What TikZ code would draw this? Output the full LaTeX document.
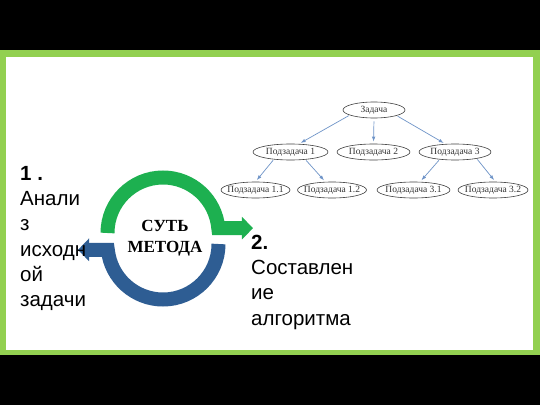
\documentclass[tikz,border=0pt]{standalone}
\usepackage{fontspec}
\setmainfont{Liberation Serif}
\setsansfont{Liberation Sans}
\usetikzlibrary{positioning,arrows.meta,shapes.geometric}
\definecolor{framegreen}{HTML}{92D050}
\definecolor{arcgreen}{HTML}{1DB050}
\definecolor{arcblue}{HTML}{2E5D93}
\definecolor{linkblue}{HTML}{6F94C8}
\tikzset{
  task/.style={ellipse, draw=black!75, line width=0.6pt, inner xsep=-4pt, inner ysep=0pt,
    minimum height=16pt, text=black!80, font=\fontsize{9.5}{11}\selectfont},
  link/.style={draw=linkblue, line width=0.7pt, -{Latex[length=5pt,width=3.5pt]},
    shorten >=2pt, shorten <=1pt},
  band/.style={line width=14pt, -{Triangle[length=11pt,width=22pt]}},
  bigtext/.style={anchor=base west, inner sep=0pt, align=left,
    font=\sffamily\fontsize{20.5}{25.3}\selectfont}
}

\begin{document}
\begin{tikzpicture}[x=1pt, y=1pt]
    \useasboundingbox (0,0) rectangle (540,405);
    \fill[black] (0,0) rectangle (540,405);
    \fill[framegreen] (0,50) rectangle (540,355);
    \fill[white] (6,55.5) rectangle (533,347.5);

    % tree
    \node[task, minimum width=62pt] (z) at (374,295) {Задача};
    \node[task, minimum width=75pt] (p1) at (290.5,253) {Подзадача 1};
    \node[task, minimum width=73pt] (p2) at (373.5,253) {Подзадача 2};
    \node[task, minimum width=72pt] (p3) at (455,253) {Подзадача 3};
    \node[task, minimum width=69pt] (p11) at (255.5,215) {Подзадача 1.1};
    \node[task, minimum width=69pt] (p12) at (332,215) {Подзадача 1.2};
    \node[task, minimum width=73pt] (p31) at (413.5,215) {Подзадача 3.1};
    \node[task, minimum width=70pt] (p32) at (493,215) {Подзадача 3.2};

    \draw[link] (z.192) -- (p1.44);
    \draw[link, shorten <=3pt] (z.south) -- (p2.north);
    \draw[link] (z.346) -- (p3.140);
    \draw[link] (p1.204) -- (p11.north);
    \draw[link] (p1.333) -- (p12.129);
    \draw[link] (p3.206) -- (p31.51);
    \draw[link] (p3.343) -- (p32.74);

    % cycle
    \coordinate (cg) at (163,172);
    \coordinate (cb) at (163,161);
    \draw[band, arcgreen] ([xshift=-55.5pt]cg) arc[start angle=180, end angle=5, radius=55.5pt]
      -- ++(34.7,0);
    \draw[band, arcblue] ([xshift=55.5pt]cb) arc[start angle=0, end angle=-174, radius=55.5pt]
      -- ++(-29.8,0);

    \node[anchor=base, align=center, inner sep=0pt,
      font=\bfseries\fontsize{17}{20.6}\selectfont] (sut) at (165,152.7) {СУТЬ\\МЕТОДА};

    \node[bigtext] (analiz) at (20,98.3) {\textbf{1 .}\\Анали\\з\\исходн\\ой\\задачи};
    \node[bigtext] (algo) at (251,80) {\textbf{2.}\\Составлен\\ие\\алгоритма};
\end{tikzpicture}
\end{document}
